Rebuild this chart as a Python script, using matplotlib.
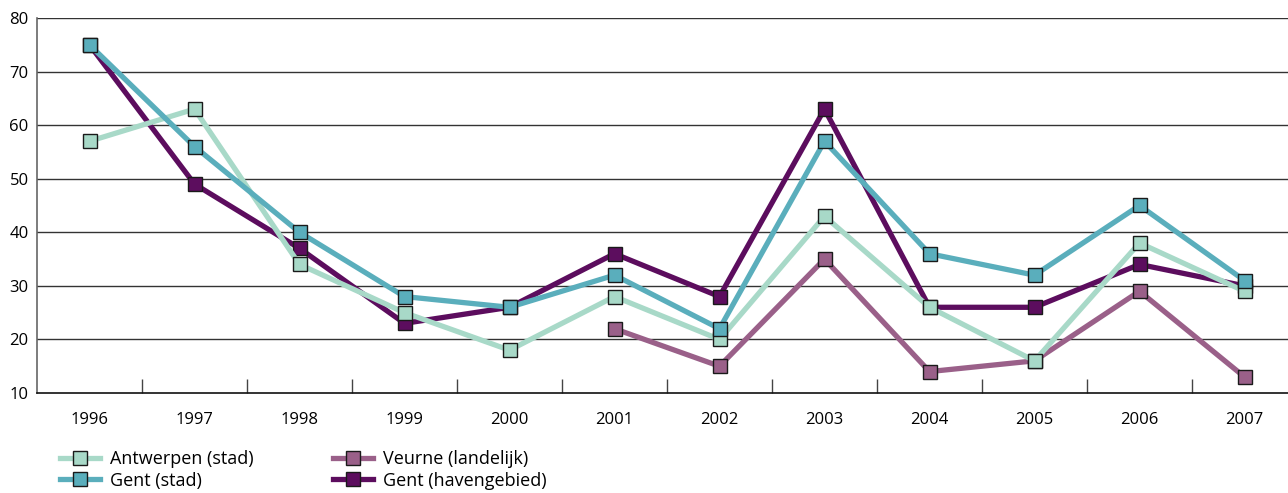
import numpy as np
import matplotlib
matplotlib.use("Agg")
import matplotlib.pyplot as plt

years = ["1996", "1997", "1998", "1999", "2000", "2001", "2002", "2003", "2004", "2005", "2006", "2007"]
antwerpen = [57, 63, 34, 25, 18, 28, 20, 43, 26, 16, 38, 29]
gent_stad = [75, 56, 40, 28, 26, 32, 22, 57, 36, 32, 45, 31]
veurne = [np.nan, np.nan, np.nan, np.nan, np.nan, 22, 15, 35, 14, 16, 29, 13]
gent_haven = [75, 49, 37, 23, 26, 36, 28, 63, 26, 26, 34, 30]

plt.rcParams['font.family'] = ['Open Sans', 'DejaVu Sans']
fs = 12
lfs = 13

fig = plt.figure(figsize=(12.88, 4.93), dpi=100)
W, H = 1288, 493
ax = fig.add_axes([37 / W, 100 / H, (1297 - 37) / W, 375 / H])

x = np.arange(len(years))
style = dict(linewidth=3.8, marker='s', markersize=10.5, markeredgecolor='#1a1a1a', markeredgewidth=1.0)
l_v, = ax.plot(x, veurne, color='#9a6089', label='Veurne (landelijk)', zorder=3, **style)
l_h, = ax.plot(x, gent_haven, color='#5c0d5e', label='Gent (havengebied)', zorder=4, **style)
l_a, = ax.plot(x, antwerpen, color='#a8d9c8', label='Antwerpen (stad)', zorder=5, **style)
l_g, = ax.plot(x, gent_stad, color='#5aaebc', label='Gent (stad)', zorder=6, **style)

ax.set_xlim(-0.5, len(years) - 0.5)
ax.set_ylim(10, 80)
ax.set_yticks(range(10, 81, 10))
for yv in range(20, 81, 10):
    ax.axhline(yv, color='#333333', linewidth=1.0, zorder=1)

ax.set_xticks(x)
ax.set_xticklabels(years)
ax.set_xticks(np.arange(0.5, len(years) - 0.5, 1), minor=True)
ax.tick_params(axis='x', which='major', length=0, pad=14, labelsize=fs)
ax.tick_params(axis='x', which='minor', direction='in', length=10, width=1, color='#444444')
ax.tick_params(axis='y', length=0, pad=6, labelsize=fs)

for s in ['top', 'right']:
    ax.spines[s].set_visible(False)
ax.spines['left'].set_color('#666666')
ax.spines['left'].set_linewidth(1.2)
ax.spines['bottom'].set_color('#111111')
ax.spines['bottom'].set_linewidth(1.2)

fig.legend(handles=[l_a, l_g, l_v, l_h], ncol=2, loc='lower left',
           bbox_to_anchor=(44 / W, -0.026), frameon=False, fontsize=lfs,
           handlelength=2.2, columnspacing=4.4, labelspacing=0.2, handletextpad=0.55)

fig.savefig('out.png', dpi=100)
